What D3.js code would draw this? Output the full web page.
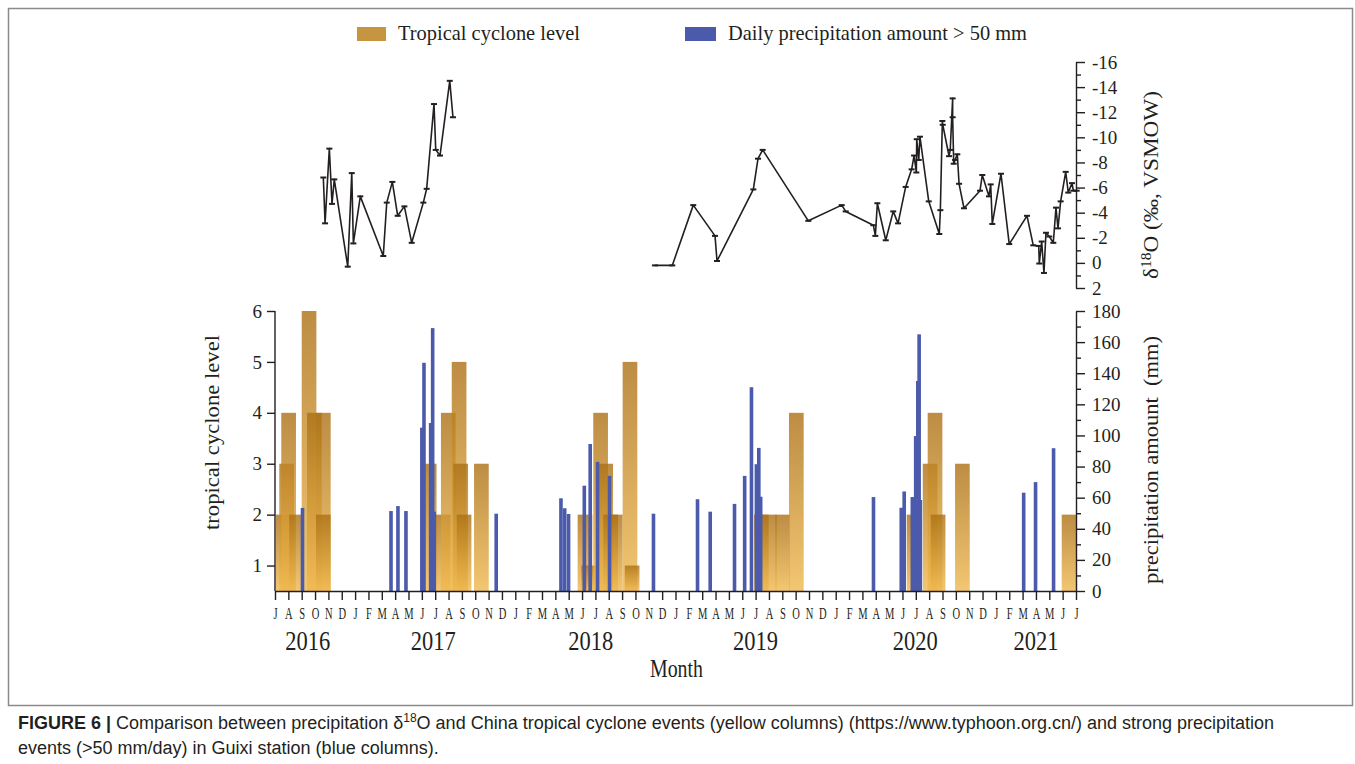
<!DOCTYPE html>
<html>
<head>
<meta charset="utf-8">
<script src="https://cdn.jsdelivr.net/npm/d3@7"></script>
<style>
body { margin:0; background:#fff; }
svg text { font-family:"Liberation Serif","Times New Roman",serif; fill:#231f20; }
svg .caption { font-family:"Liberation Sans",Arial,sans-serif; fill:#231f20; }
</style>
</head>
<body>
<script>
// month index: 0 = July 2016 ... 60 = July 2021
var monthInitials = "JFMAMJJASOND".split("");
var firstMonth = 6;
var monthTicks = d3.range(0, 61);
var yearLabels = ["2016", "2017", "2018", "2019", "2020", "2021"];
var yearAt = [2.45, 11.85, 23.65, 36.0, 47.95, 57.0];

// tropical cyclone events (yellow columns), left edge in months
var cycloneMonth = [0.07, 0.32, 0.47, 1.07, 2.0, 2.4, 3.07, 3.07,
	11.0, 12.06, 12.43, 13.24, 13.36, 13.61, 14.91,
	22.67, 22.94, 23.84, 24.22, 24.59, 24.94, 26.04, 26.2,
	35.88, 36.48, 37.48, 38.5,
	47.32, 48.52, 48.89, 49.12, 50.94,
	58.93];
var cycloneLevel = [2, 3, 4, 2, 6, 4, 4, 2,
	3, 2, 4, 5, 3, 2, 3,
	2, 1, 4, 3, 2, 2, 5, 1,
	2, 2, 2, 4,
	2, 3, 4, 2, 3,
	2];

// daily precipitation > 50 mm (blue columns)
var rainMonth = [2.06,
	8.69, 9.21, 9.81, 11.0, 11.16, 11.66, 11.81, 11.93, 16.57,
	21.42, 21.7, 21.99, 23.17, 23.61, 24.16, 25.06, 28.35,
	31.65, 32.6, 34.42, 35.18, 35.69, 36.06, 36.24, 36.38,
	44.83, 46.91, 47.13, 47.74, 47.99, 48.15, 48.25, 48.34,
	56.08, 56.97, 58.32];
var rainAmount = [53.4,
	51.4, 54.6, 51.4, 105, 146.7, 108, 169, 51, 49.7,
	59.6, 53.2, 49.5, 67.7, 94.5, 83, 74, 49.7,
	59, 51, 56, 74, 131, 81.5, 92, 60.6,
	60.4, 53.5, 64, 60.4, 99.6, 135, 165, 58.5,
	63.2, 70, 91.8];

// precipitation d18O, two sampling periods
var o18MonthA = [3.62, 3.75, 4.07, 4.27, 4.44, 5.45, 5.75, 5.87, 6.39, 8.11, 8.37,
	8.79, 9.19, 9.69, 10.24, 11.11, 11.36, 11.91, 12.04, 12.36, 13.09, 13.33];
var o18A = [-6.8, -3.15, -9.1, -4.7, -6.65, 0.3, -7.15, -1.55, -5.3, -0.55, -4.8,
	-6.45, -3.75, -4.5, -1.6, -4.8, -5.9, -12.65, -9.0, -8.55, -14.5, -11.6];
var o18MonthB = [28.46, 29.76, 31.33, 32.96, 33.11, 35.83, 36.18, 36.53, 39.95, 42.45,
	42.75, 44.82, 44.97, 45.12, 45.75, 46.31, 46.67, 47.24, 47.69, 47.87,
	48.04, 48.07, 48.22, 48.31, 48.97, 49.76, 49.84, 49.99, 50.02, 50.49,
	50.58, 50.76, 50.76, 50.84, 50.94, 51.11, 51.24, 51.61, 52.81, 52.98,
	53.48, 53.61, 53.73, 54.38, 55.0, 56.33, 56.8, 57.21, 57.25, 57.43,
	57.6, 57.75, 58.0, 58.3, 58.5, 58.65, 58.85, 59.23, 59.42, 59.7,
	59.8, 60.05];
var o18B = [0.2, 0.2, -4.6, -2.15, -0.15, -5.85, -8.3, -9.0, -3.35, -4.6,
	-4.1, -3.0, -2.15, -4.75, -1.8, -4.1, -3.15, -6.05, -7.45, -8.55,
	-7.2, -9.85, -8.2, -10.05, -4.9, -2.3, -4.2, -11.3, -11.0, -8.5,
	-9.0, -13.1, -11.6, -7.9, -8.2, -8.65, -6.3, -4.35, -5.75, -7.0,
	-5.3, -6.25, -3.1, -7.1, -1.5, -3.75, -1.4, -1.35, 0.05, -1.7,
	0.8, -2.4, -2.1, -1.6, -4.4, -2.75, -4.9, -7.25, -5.6, -6.35,
	-5.75, -5.75];

var levelTicks = [1, 2, 3, 4, 5, 6];
var rainTicks = [0, 20, 40, 60, 80, 100, 120, 140, 160, 180];
var rainMinor = [10, 30, 50, 70, 90, 110, 130, 150, 170];
var o18Ticks = [2, 0, -2, -4, -6, -8, -10, -12, -14, -16];
var o18Minor = [1, -1, -3, -5, -7, -9, -11, -13, -15];

var W = 1355, H = 764;
var svg = d3.select("body").append("svg").attr("width", W).attr("height", H);

// frame round the figure
svg.append("rect")
	.attr("x", 8.5).attr("y", 8.5).attr("width", 1344).attr("height", 697)
	.attr("fill", "none").attr("stroke", "#8a8a8a").attr("stroke-width", 1.5);

var defs = svg.append("defs");
var grad = defs.append("linearGradient").attr("id", "gold")
	.attr("x1", 0).attr("y1", 0).attr("x2", 0).attr("y2", 1);
grad.append("stop").attr("offset", 0).attr("stop-color", "#ab7014");
grad.append("stop").attr("offset", 1).attr("stop-color", "#f0b84e");

var x = d3.scaleLinear().domain([0, 60]).range([275, 1076]);
var yLevel = d3.scaleLinear().domain([0.5, 6]).range([591, 311]);
var yRain = d3.scaleLinear().domain([0, 180]).range([591, 311]);
var yO18 = d3.scaleLinear().domain([2, -16]).range([288, 62]);

var barMonths = 1.1;

// yellow columns
svg.append("g").selectAll("rect")
	.data(cycloneMonth)
	.enter().append("rect")
	.attr("x", function(d){ return x(d); })
	.attr("width", function(d){ return x(d + barMonths) - x(d); })
	.attr("y", function(d, i){ return yLevel(cycloneLevel[i]); })
	.attr("height", function(d, i){ return yLevel(0.5) - yLevel(cycloneLevel[i]); })
	.attr("fill", "url(#gold)")
	.attr("fill-opacity", 0.8);

// blue columns
svg.append("g").selectAll("rect")
	.data(rainMonth)
	.enter().append("rect")
	.attr("x", function(d){ return x(d) - 1.8; })
	.attr("width", 3.6)
	.attr("y", function(d, i){ return yRain(rainAmount[i]); })
	.attr("height", function(d, i){ return yRain(0) - yRain(rainAmount[i]); })
	.attr("fill", "#4b5aab");

function styleAxis(g, size) {
	g.attr("font-family", null).attr("font-size", null);
	g.selectAll("path, line").attr("stroke", "#231f20").attr("stroke-width", 1.4);
	g.selectAll("text").attr("font-size", size).attr("fill", "#231f20");
}

// x axis with month initials
var xAxis = svg.append("g").attr("transform", "translate(0,591)")
	.call(d3.axisBottom(x).tickValues(monthTicks).tickSize(9).tickSizeOuter(0)
		.tickFormat(function(d){ return monthInitials[(firstMonth + d) % 12]; }));
styleAxis(xAxis, 17);
xAxis.selectAll("text").attr("dy", "0.95em").attr("transform", "scale(0.62,1)");

svg.append("g").selectAll("text")
	.data(yearLabels)
	.enter().append("text")
	.attr("x", function(d, i){ return x(yearAt[i]) - 22.5; })
	.attr("y", 650)
	.attr("font-size", 27)
	.attr("textLength", 45)
	.attr("lengthAdjust", "spacingAndGlyphs")
	.text(function(d){ return d; });

svg.append("text").attr("x", 650).attr("y", 677).attr("font-size", 25)
	.attr("textLength", 53).attr("lengthAdjust", "spacingAndGlyphs").text("Month");

// left axis: tropical cyclone level
var leftAxis = svg.append("g").attr("transform", "translate(275,0)")
	.call(d3.axisLeft(yLevel).tickValues(levelTicks).tickSize(8).tickPadding(5).tickSizeOuter(0)
		.tickFormat(function(d){ return String(d); }));
styleAxis(leftAxis, 19);
leftAxis.select(".domain").attr("d", "M0," + yLevel(6) + "V" + yLevel(0.5));

svg.append("text")
	.attr("transform", "translate(219,530) rotate(-90)")
	.attr("font-size", 21).attr("textLength", 195).attr("lengthAdjust", "spacingAndGlyphs")
	.text("tropical cyclone level");

// right axis: precipitation amount
var rainAxis = svg.append("g").attr("transform", "translate(1076,0)")
	.call(d3.axisRight(yRain).tickValues(rainTicks).tickSize(9).tickPadding(7).tickSizeOuter(0)
		.tickFormat(function(d){ return String(d); }));
styleAxis(rainAxis, 19);
svg.append("g").attr("transform", "translate(1076,0)")
	.call(d3.axisRight(yRain).tickValues(rainMinor).tickSize(5).tickFormat(""))
	.call(function(g){ g.select(".domain").remove(); styleAxis(g, 0); });

svg.append("text")
	.attr("transform", "translate(1158,584) rotate(-90)")
	.attr("font-size", 21).attr("textLength", 248).attr("lengthAdjust", "spacingAndGlyphs")
	.style("white-space", "pre")
	.text("precipitation amount  (mm)");

// right axis: d18O
var o18Axis = svg.append("g").attr("transform", "translate(1076,0)")
	.call(d3.axisRight(yO18).tickValues(o18Ticks).tickSize(9).tickPadding(7).tickSizeOuter(0)
		.tickFormat(function(d){ return String(d); }));
styleAxis(o18Axis, 19);
svg.append("g").attr("transform", "translate(1076,0)")
	.call(d3.axisRight(yO18).tickValues(o18Minor).tickSize(5).tickFormat(""))
	.call(function(g){ g.select(".domain").remove(); styleAxis(g, 0); });

var o18Title = svg.append("text")
	.attr("transform", "translate(1158,279) rotate(-90)")
	.attr("font-size", 21).attr("textLength", 188).attr("lengthAdjust", "spacingAndGlyphs");
o18Title.append("tspan").text("δ");
o18Title.append("tspan").attr("font-size", 14).attr("dy", -7).text("18");
o18Title.append("tspan").attr("dy", 7).text("O (‰, VSMOW)");

// d18O lines with small caps at each sample
var line = d3.line()
	.x(function(d){ return x(d[0]); })
	.y(function(d){ return yO18(d[1]); });
var segA = o18MonthA.map(function(m, i){ return [m, o18A[i]]; });
var segB = o18MonthB.map(function(m, i){ return [m, o18B[i]]; });
[segA, segB].forEach(function(seg){
	svg.append("path").datum(seg)
		.attr("d", line)
		.attr("fill", "none")
		.attr("stroke", "#231f20")
		.attr("stroke-width", 1.6)
		.attr("stroke-linejoin", "round");
	svg.append("g").selectAll("line")
		.data(seg)
		.enter().append("line")
		.attr("x1", function(d){ return x(d[0]) - 3; })
		.attr("x2", function(d){ return x(d[0]) + 3; })
		.attr("y1", function(d){ return yO18(d[1]); })
		.attr("y2", function(d){ return yO18(d[1]); })
		.attr("stroke", "#231f20")
		.attr("stroke-width", 2);
});

// legend
var legend = svg.append("g");
legend.append("rect").attr("x", 357).attr("y", 27).attr("width", 29).attr("height", 14).attr("fill", "#c7953f");
legend.append("text").attr("x", 398).attr("y", 40).attr("font-size", 22)
	.attr("textLength", 182).attr("lengthAdjust", "spacingAndGlyphs").text("Tropical cyclone level");
legend.append("rect").attr("x", 685).attr("y", 27).attr("width", 31).attr("height", 14).attr("fill", "#4b5aab");
legend.append("text").attr("x", 728).attr("y", 40).attr("font-size", 22)
	.attr("textLength", 299).attr("lengthAdjust", "spacingAndGlyphs").text("Daily precipitation amount > 50 mm");

// caption
var cap1 = svg.append("text").attr("class", "caption").attr("x", 18).attr("y", 729).attr("font-size", 18);
cap1.append("tspan").attr("font-weight", "bold").text("FIGURE 6 |");
cap1.append("tspan").text(" Comparison between precipitation δ");
cap1.append("tspan").attr("font-size", 12).attr("dy", -7).text("18");
cap1.append("tspan").attr("dy", 7).text("O and China tropical cyclone events (yellow columns) (https://www.typhoon.org.cn/) and strong precipitation");
svg.append("text").attr("class", "caption").attr("x", 18).attr("y", 754).attr("font-size", 18)
	.text("events (>50 mm/day) in Guixi station (blue columns).");
</script>
</body>
</html>
